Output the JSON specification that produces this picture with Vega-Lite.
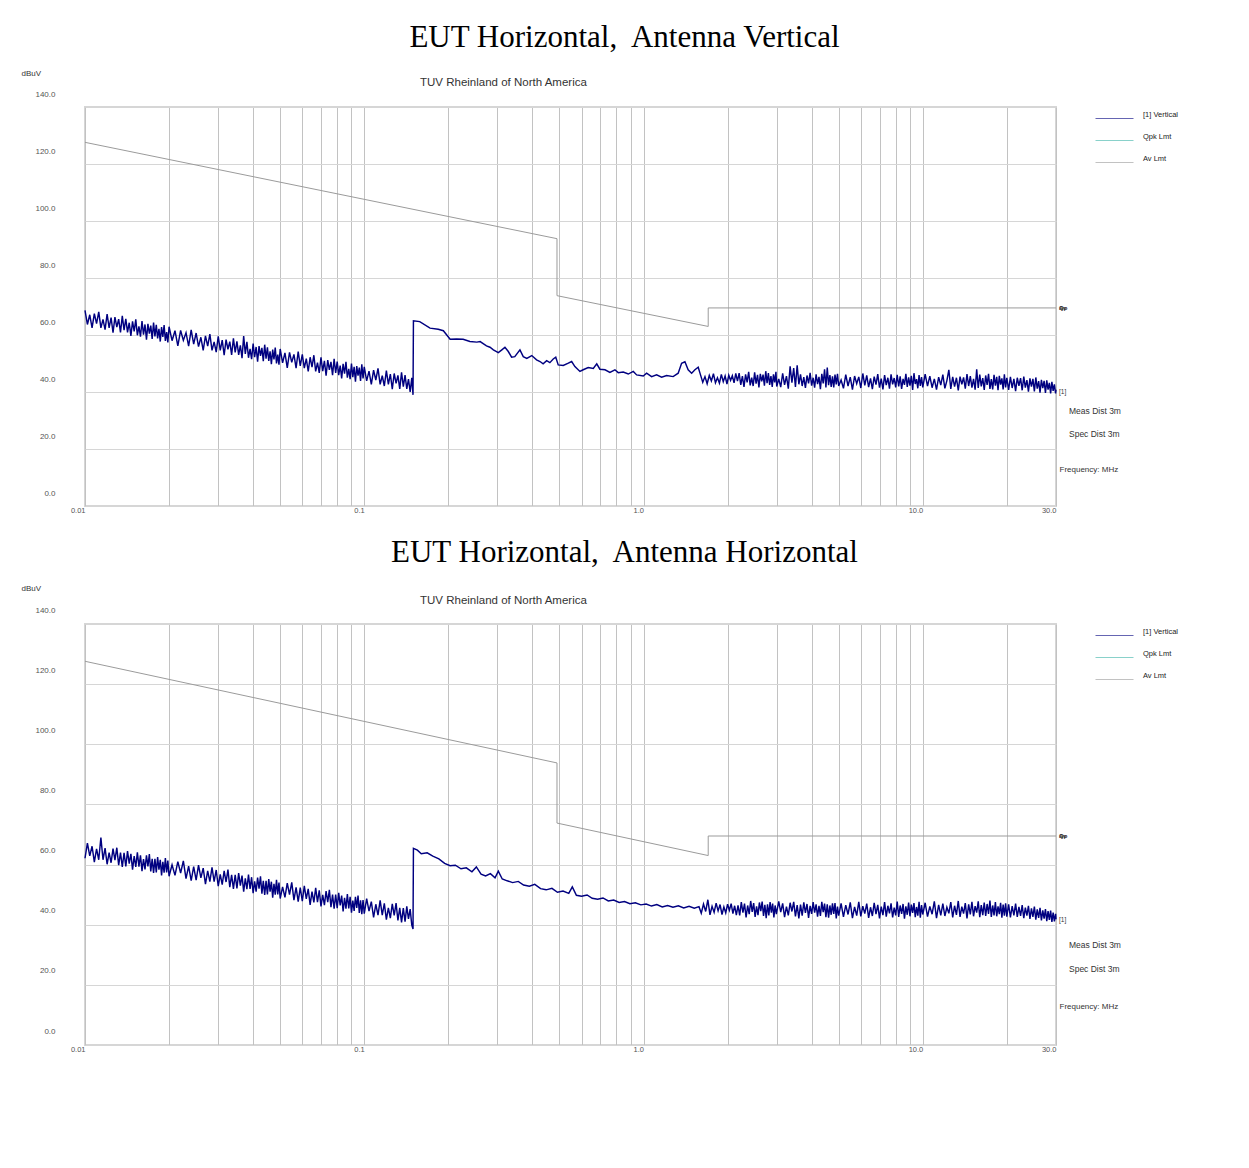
{
  "$schema": "https://vega.github.io/schema/vega-lite/v6.json",
  "autosize": {"type": "none"},
  "padding": {"left": 85, "top": 107, "right": 1164, "bottom": 1061},
  "background": "white",
  "spacing": 118,
  "bounds": "flush",
  "resolve": {"scale": {"color": "independent"}, "legend": {"color": "independent"}},
  "config": {
    "font": "Liberation Sans",
    "view": {"stroke": "#d6d6d6", "strokeWidth": 2},
    "axis": {"domain": false, "ticks": false, "labelFont": "Liberation Sans", "labelColor": "#555555", "labelFontSize": 7.5, "titleFont": "Liberation Sans", "titleFontWeight": "normal", "titleFontSize": 8, "titleColor": "#333333", "labelOverlap": false, "labelFlush": false},
    "axisX": {"gridColor": "#c2c2c2", "gridOpacity": 1},
    "axisY": {"gridColor": "#d6d6d6", "gridOpacity": 1},
    "legend": {"orient": "none", "legendX": 1010, "legendY": -8, "padding": 0, "symbolType": "stroke", "symbolSize": 1444, "symbolStrokeWidth": 1, "symbolOpacity": 0.6, "labelFont": "Liberation Sans", "labelFontSize": 7.5, "labelColor": "#222222", "labelOffset": 9, "labelBaseline": "bottom", "rowPadding": 0},
    "text": {"font": "Liberation Sans", "color": "#333333"},
    "title": {"font": "Liberation Serif", "fontSize": 31, "fontWeight": "normal", "color": "#000000", "anchor": "middle", "frame": "group", "dx": 54, "offset": 15}
  },
  "datasets": {
    "lim": [
      {"i": 1, "f": 0.01, "v": 127.6},
      {"i": 2, "f": 0.49, "v": 93.8},
      {"i": 3, "f": 0.49, "v": 73.8},
      {"i": 4, "f": 1.705, "v": 63.0},
      {"i": 5, "f": 1.705, "v": 69.5},
      {"i": 6, "f": 30, "v": 69.5}
    ],
    "vert": [
      {"f":0.0100,"v":68.6},{"f":0.0102,"v":63.7},{"f":0.0104,"v":67.1},{"f":0.0106,"v":62.5},{"f":0.0108,"v":67.5},{"f":0.0110,"v":64.0},{"f":0.0112,"v":68.1},{"f":0.0114,"v":62.5},{"f":0.0116,"v":65.5},{"f":0.0118,"v":61.9},
      {"f":0.0120,"v":67.3},{"f":0.0122,"v":62.5},{"f":0.0124,"v":66.1},{"f":0.0126,"v":60.8},{"f":0.0128,"v":66.3},{"f":0.0130,"v":62.8},{"f":0.0132,"v":65.6},{"f":0.0134,"v":60.9},{"f":0.0136,"v":66.7},{"f":0.0138,"v":61.7},
      {"f":0.0140,"v":65.7},{"f":0.0142,"v":60.9},{"f":0.0144,"v":64.3},{"f":0.0146,"v":59.7},{"f":0.0148,"v":64.8},{"f":0.0150,"v":61.3},{"f":0.0152,"v":65.5},{"f":0.0154,"v":59.9},{"f":0.0156,"v":63.0},{"f":0.0158,"v":59.4},
      {"f":0.0160,"v":64.9},{"f":0.0162,"v":60.1},{"f":0.0164,"v":63.7},{"f":0.0166,"v":58.4},{"f":0.0168,"v":63.9},{"f":0.0170,"v":60.5},{"f":0.0172,"v":63.3},{"f":0.0174,"v":58.6},{"f":0.0176,"v":64.4},{"f":0.0178,"v":59.5},
      {"f":0.0180,"v":63.6},{"f":0.0182,"v":58.8},{"f":0.0184,"v":62.2},{"f":0.0186,"v":57.7},{"f":0.0188,"v":62.8},{"f":0.0190,"v":59.3},{"f":0.0192,"v":63.5},{"f":0.0194,"v":57.9},{"f":0.0196,"v":61.0},{"f":0.0198,"v":57.4},
      {"f":0.0200,"v":62.9},
      {"f":0.0205,"v":58.0},{"f":0.0210,"v":61.5},{"f":0.0215,"v":56.2},{"f":0.0220,"v":61.6},{"f":0.0225,"v":58.1},{"f":0.0230,"v":60.8},{"f":0.0235,"v":56.1},{"f":0.0240,"v":61.8},{"f":0.0245,"v":56.8},{"f":0.0250,"v":60.7},
      {"f":0.0255,"v":55.9},{"f":0.0260,"v":59.2},{"f":0.0265,"v":54.6},{"f":0.0270,"v":59.7},{"f":0.0275,"v":56.1},{"f":0.0280,"v":60.3},{"f":0.0285,"v":54.6},{"f":0.0290,"v":57.6},{"f":0.0295,"v":54.0},{"f":0.0300,"v":59.5},
      {"f":0.0305,"v":54.6},{"f":0.0310,"v":58.2},{"f":0.0315,"v":52.9},{"f":0.0320,"v":58.4},{"f":0.0325,"v":55.0},{"f":0.0330,"v":57.7},{"f":0.0335,"v":53.0},{"f":0.0340,"v":58.8},{"f":0.0345,"v":53.9},{"f":0.0350,"v":57.8},
      {"f":0.0355,"v":53.0},{"f":0.0360,"v":56.4},{"f":0.0365,"v":51.9},{"f":0.0370,"v":59.6},{"f":0.0375,"v":53.4},{"f":0.0380,"v":57.6},{"f":0.0385,"v":52.0},{"f":0.0390,"v":55.1},{"f":0.0395,"v":51.5},{"f":0.0400,"v":57.0},
      {"f":0.0405,"v":52.2},{"f":0.0410,"v":55.8},{"f":0.0415,"v":50.6},{"f":0.0420,"v":56.1},{"f":0.0425,"v":52.7},{"f":0.0430,"v":55.5},{"f":0.0435,"v":50.8},{"f":0.0440,"v":56.6},{"f":0.0445,"v":51.7},{"f":0.0450,"v":55.7},
      {"f":0.0455,"v":50.9},{"f":0.0460,"v":54.3},{"f":0.0465,"v":49.8},{"f":0.0470,"v":54.9},{"f":0.0475,"v":51.4},{"f":0.0480,"v":55.6},{"f":0.0485,"v":50.0},{"f":0.0490,"v":53.1},{"f":0.0495,"v":49.6},{"f":0.0500,"v":55.1},
      {"f":0.051,"v":50.2},{"f":0.052,"v":53.7},{"f":0.053,"v":48.5},{"f":0.054,"v":53.9},{"f":0.055,"v":50.4},{"f":0.056,"v":53.2},{"f":0.057,"v":48.4},{"f":0.058,"v":54.2},{"f":0.059,"v":49.2},{"f":0.060,"v":53.2},
      {"f":0.061,"v":48.4},{"f":0.062,"v":51.7},{"f":0.063,"v":47.2},{"f":0.064,"v":52.2},{"f":0.065,"v":48.7},{"f":0.066,"v":52.9},{"f":0.067,"v":47.2},{"f":0.068,"v":50.3},{"f":0.069,"v":46.7},{"f":0.070,"v":52.2},
      {"f":0.071,"v":47.3},{"f":0.072,"v":50.9},{"f":0.073,"v":45.7},{"f":0.074,"v":51.2},{"f":0.075,"v":47.8},{"f":0.076,"v":50.6},{"f":0.077,"v":45.9},{"f":0.078,"v":51.6},{"f":0.079,"v":46.7},{"f":0.080,"v":50.7},
      {"f":0.081,"v":45.9},{"f":0.082,"v":49.3},{"f":0.083,"v":44.8},{"f":0.084,"v":49.9},{"f":0.085,"v":46.4},{"f":0.086,"v":50.6},{"f":0.087,"v":45.0},{"f":0.088,"v":48.1},{"f":0.089,"v":44.5},{"f":0.090,"v":50.0},
      {"f":0.091,"v":45.2},{"f":0.092,"v":48.8},{"f":0.093,"v":43.6},{"f":0.094,"v":49.1},{"f":0.095,"v":45.7},{"f":0.096,"v":48.6},{"f":0.097,"v":43.9},{"f":0.098,"v":49.7},{"f":0.099,"v":44.8},{"f":0.100,"v":48.8},
      {"f":0.102,"v":43.9},{"f":0.104,"v":47.3},{"f":0.106,"v":42.7},{"f":0.108,"v":47.7},{"f":0.110,"v":44.2},{"f":0.112,"v":48.3},{"f":0.114,"v":42.7},{"f":0.116,"v":45.7},{"f":0.118,"v":42.1},{"f":0.120,"v":47.5},
      {"f":0.122,"v":42.7},{"f":0.124,"v":46.3},{"f":0.126,"v":41.0},{"f":0.128,"v":46.5},{"f":0.130,"v":43.0},{"f":0.132,"v":45.8},{"f":0.134,"v":41.1},{"f":0.136,"v":46.9},{"f":0.138,"v":41.9},{"f":0.140,"v":45.9},
      {"f":0.142,"v":41.1},{"f":0.144,"v":44.5},{"f":0.146,"v":40.0},{"f":0.148,"v":45.0},{"f":0.1495,"v":39.0},
      {"f":0.150,"v":65.0},{"f":0.158,"v":64.7},{"f":0.172,"v":62.4},{"f":0.184,"v":62.0},{"f":0.192,"v":61.5},{"f":0.203,"v":58.5},{"f":0.214,"v":58.6},{"f":0.226,"v":58.5},{"f":0.239,"v":57.7},{"f":0.253,"v":57.5},
      {"f":0.260,"v":57.7},{"f":0.274,"v":56.2},{"f":0.282,"v":55.7},{"f":0.290,"v":54.8},{"f":0.302,"v":53.8},{"f":0.311,"v":54.8},{"f":0.319,"v":55.7},{"f":0.328,"v":54.2},{"f":0.337,"v":52.2},{"f":0.346,"v":52.4},
      {"f":0.361,"v":54.8},{"f":0.371,"v":52.4},{"f":0.382,"v":51.8},{"f":0.398,"v":52.8},{"f":0.414,"v":51.3},{"f":0.426,"v":50.7},{"f":0.437,"v":49.9},{"f":0.450,"v":51.0},{"f":0.462,"v":50.3},{"f":0.475,"v":51.6},
      {"f":0.485,"v":52.2},{"f":0.495,"v":49.5},{"f":0.516,"v":49.3},{"f":0.538,"v":50.1},{"f":0.553,"v":50.7},{"f":0.568,"v":48.9},{"f":0.592,"v":47.2},{"f":0.608,"v":47.8},{"f":0.634,"v":48.6},{"f":0.661,"v":48.3},
      {"f":0.680,"v":49.9},{"f":0.698,"v":48.0},{"f":0.728,"v":47.8},{"f":0.758,"v":46.9},{"f":0.790,"v":47.8},{"f":0.812,"v":46.8},{"f":0.846,"v":47.0},{"f":0.882,"v":46.3},{"f":0.919,"v":47.2},{"f":0.945,"v":46.0},
      {"f":0.998,"v":45.6},{"f":1.026,"v":46.6},{"f":1.069,"v":45.4},{"f":1.114,"v":46.0},{"f":1.161,"v":45.2},{"f":1.210,"v":45.8},{"f":1.277,"v":45.4},{"f":1.331,"v":46.6},{"f":1.369,"v":50.1},{"f":1.407,"v":50.6},
      {"f":1.445,"v":47.8},{"f":1.487,"v":46.6},{"f":1.528,"v":47.8},{"f":1.570,"v":48.7},
      {"f":1.60,"v":46.0},{"f":1.63,"v":43.4},{"f":1.66,"v":45.4},{"f":1.69,"v":42.9},{"f":1.72,"v":45.8},{"f":1.75,"v":43.9},{"f":1.78,"v":46.4},{"f":1.81,"v":43.2},{"f":1.84,"v":45.0},{"f":1.87,"v":43.1},
      {"f":1.90,"v":46.2},{"f":1.93,"v":43.6},{"f":1.96,"v":45.6},{"f":1.99,"v":42.8},{"f":2.02,"v":45.9},{"f":2.05,"v":44.1},{"f":2.08,"v":45.7},{"f":2.11,"v":43.2},{"f":2.14,"v":46.5},{"f":2.17,"v":43.8},
      {"f":2.20,"v":46.6},{"f":2.23,"v":42.5},{"f":2.26,"v":45.6},{"f":2.29,"v":41.8},{"f":2.32,"v":46.2},{"f":2.35,"v":43.4},{"f":2.38,"v":47.1},{"f":2.41,"v":42.3},{"f":2.44,"v":45.0},{"f":2.47,"v":42.1},
      {"f":2.50,"v":46.9},{"f":2.53,"v":42.9},{"f":2.56,"v":46.0},{"f":2.59,"v":41.6},{"f":2.62,"v":46.4},{"f":2.65,"v":43.7},{"f":2.68,"v":46.1},{"f":2.71,"v":42.2},{"f":2.74,"v":47.3},{"f":2.77,"v":43.1},
      {"f":2.80,"v":46.6},{"f":2.83,"v":42.5},{"f":2.86,"v":45.6},{"f":2.89,"v":41.8},{"f":2.92,"v":46.2},{"f":2.95,"v":43.4},{"f":2.98,"v":47.1},
      {"f":3.00,"v":41.9},{"f":3.05,"v":44.6},{"f":3.10,"v":41.7},{"f":3.15,"v":46.5},{"f":3.20,"v":42.5},{"f":3.25,"v":45.6},{"f":3.30,"v":41.2},{"f":3.35,"v":49.0},{"f":3.40,"v":43.3},{"f":3.45,"v":48.4},
      {"f":3.50,"v":41.8},{"f":3.55,"v":49.4},{"f":3.60,"v":42.7},{"f":3.65,"v":46.2},{"f":3.70,"v":42.1},{"f":3.75,"v":45.2},{"f":3.80,"v":41.4},{"f":3.85,"v":45.8},{"f":3.90,"v":43.0},{"f":3.95,"v":46.7},
      {"f":4.00,"v":42.2},{"f":4.05,"v":45.0},{"f":4.10,"v":41.5},{"f":4.15,"v":46.2},{"f":4.20,"v":42.8},{"f":4.25,"v":45.3},{"f":4.30,"v":41.0},{"f":4.35,"v":46.4},{"f":4.40,"v":43.0},{"f":4.45,"v":48.0},
      {"f":4.50,"v":41.6},{"f":4.55,"v":48.6},{"f":4.60,"v":42.4},{"f":4.65,"v":45.9},{"f":4.70,"v":41.8},{"f":4.75,"v":45.5},{"f":4.80,"v":41.6},{"f":4.85,"v":46.1},{"f":4.90,"v":42.7},{"f":4.95,"v":46.4},
      {"f":5.00,"v":42.1},
      {"f":5.1,"v":44.2},{"f":5.2,"v":41.3},{"f":5.3,"v":46.1},{"f":5.4,"v":42.1},{"f":5.5,"v":45.2},{"f":5.6,"v":40.8},{"f":5.7,"v":45.6},{"f":5.8,"v":42.9},{"f":5.9,"v":45.3},{"f":6.0,"v":41.4},
      {"f":6.1,"v":46.5},{"f":6.2,"v":42.3},{"f":6.3,"v":45.8},{"f":6.4,"v":41.7},{"f":6.5,"v":44.8},{"f":6.6,"v":41.0},{"f":6.7,"v":45.4},{"f":6.8,"v":42.6},{"f":6.9,"v":46.3},{"f":7.0,"v":41.5},
      {"f":7.1,"v":44.7},{"f":7.2,"v":40.9},{"f":7.3,"v":45.9},{"f":7.4,"v":42.4},{"f":7.5,"v":45.0},{"f":7.6,"v":41.2},{"f":7.7,"v":46.2},{"f":7.8,"v":42.7},{"f":7.9,"v":44.9},{"f":8.0,"v":41.6},
      {"f":8.1,"v":46.0},{"f":8.2,"v":42.0},{"f":8.3,"v":45.5},{"f":8.4,"v":41.1},{"f":8.5,"v":44.6},{"f":8.6,"v":42.5},{"f":8.7,"v":46.4},{"f":8.8,"v":41.8},{"f":8.9,"v":45.1},{"f":9.0,"v":42.2},
      {"f":9.1,"v":45.7},{"f":9.2,"v":40.7},{"f":9.3,"v":46.6},{"f":9.4,"v":42.8},{"f":9.5,"v":44.5},{"f":9.6,"v":41.3},{"f":9.7,"v":45.9},{"f":9.8,"v":42.1},{"f":9.9,"v":45.2},{"f":10.0,"v":41.6},
      {"f":10.2,"v":46.3},{"f":10.4,"v":42.1},{"f":10.6,"v":45.6},{"f":10.8,"v":41.5},{"f":11.0,"v":44.6},{"f":11.2,"v":40.8},{"f":11.4,"v":45.2},{"f":11.6,"v":42.4},{"f":11.8,"v":46.1},{"f":12.0,"v":41.3},
      {"f":12.2,"v":44.0},{"f":12.4,"v":47.8},{"f":12.6,"v":41.1},{"f":12.8,"v":45.3},{"f":13.0,"v":41.9},{"f":13.2,"v":45.0},{"f":13.4,"v":40.6},{"f":13.6,"v":45.4},{"f":13.8,"v":42.7},{"f":14.0,"v":45.1},
      {"f":14.2,"v":41.2},{"f":14.4,"v":46.3},{"f":14.6,"v":42.1},{"f":14.8,"v":45.6},{"f":15.0,"v":41.5},{"f":15.2,"v":44.6},{"f":15.4,"v":40.8},{"f":15.6,"v":48.0},{"f":15.8,"v":41.4},{"f":16.0,"v":46.1},
      {"f":16.2,"v":42.0},{"f":16.4,"v":44.9},{"f":16.6,"v":40.7},{"f":16.8,"v":45.8},{"f":17.0,"v":42.5},{"f":17.2,"v":46.4},{"f":17.4,"v":41.1},{"f":17.6,"v":44.5},{"f":17.8,"v":40.9},{"f":18.0,"v":46.0},
      {"f":18.2,"v":42.2},{"f":18.4,"v":45.3},{"f":18.6,"v":40.6},{"f":18.8,"v":45.7},{"f":19.0,"v":42.6},{"f":19.2,"v":44.8},{"f":19.4,"v":40.9},{"f":19.6,"v":46.2},{"f":19.8,"v":41.6},{"f":20.0,"v":45.0},
      {"f":20.3,"v":40.7},{"f":20.6,"v":45.3},{"f":20.9,"v":41.4},{"f":21.2,"v":44.6},{"f":21.5,"v":40.3},{"f":21.8,"v":45.0},{"f":22.1,"v":42.2},{"f":22.4,"v":44.9},{"f":22.7,"v":40.6},{"f":23.0,"v":45.4},
      {"f":23.3,"v":41.5},{"f":23.6,"v":44.2},{"f":23.9,"v":40.1},{"f":24.2,"v":44.8},{"f":24.5,"v":41.9},{"f":24.8,"v":44.6},{"f":25.1,"v":40.2},{"f":25.4,"v":45.1},{"f":25.7,"v":41.2},{"f":26.0,"v":43.8},
      {"f":26.3,"v":39.8},{"f":26.6,"v":44.3},{"f":26.9,"v":41.4},{"f":27.2,"v":43.9},{"f":27.5,"v":39.7},{"f":27.8,"v":44.1},{"f":28.1,"v":40.8},{"f":28.4,"v":43.2},{"f":28.7,"v":39.5},{"f":29.0,"v":43.6},
      {"f":29.3,"v":40.4},{"f":29.6,"v":42.7},{"f":29.9,"v":39.5},{"f":30.0,"v":40.8}
    ],
    "horiz": [
      {"f":0.0100,"v":62.1},{"f":0.0102,"v":67.1},{"f":0.0104,"v":62.9},{"f":0.0106,"v":66.1},{"f":0.0108,"v":60.8},{"f":0.0110,"v":65.2},{"f":0.0112,"v":61.6},{"f":0.0114,"v":69.0},{"f":0.0116,"v":61.6},{"f":0.0118,"v":65.5},
      {"f":0.0120,"v":60.1},{"f":0.0122,"v":64.0},{"f":0.0124,"v":60.6},{"f":0.0126,"v":65.3},{"f":0.0128,"v":61.5},{"f":0.0130,"v":65.6},{"f":0.0132,"v":59.8},{"f":0.0134,"v":64.0},{"f":0.0136,"v":59.2},{"f":0.0138,"v":63.9},
      {"f":0.0140,"v":59.4},{"f":0.0142,"v":64.5},{"f":0.0144,"v":60.3},{"f":0.0146,"v":63.6},{"f":0.0148,"v":58.3},{"f":0.0150,"v":62.8},{"f":0.0152,"v":59.2},{"f":0.0154,"v":64.1},{"f":0.0156,"v":59.3},{"f":0.0158,"v":63.1},
      {"f":0.0160,"v":57.8},{"f":0.0162,"v":61.8},{"f":0.0164,"v":58.4},{"f":0.0166,"v":63.1},{"f":0.0168,"v":59.4},{"f":0.0170,"v":63.5},{"f":0.0172,"v":57.7},{"f":0.0174,"v":61.9},{"f":0.0176,"v":57.2},{"f":0.0178,"v":61.9},
      {"f":0.0180,"v":57.4},{"f":0.0182,"v":62.5},{"f":0.0184,"v":58.3},{"f":0.0186,"v":61.6},{"f":0.0188,"v":56.4},{"f":0.0190,"v":60.9},{"f":0.0192,"v":57.3},{"f":0.0194,"v":62.2},{"f":0.0196,"v":57.4},{"f":0.0198,"v":61.3},
      {"f":0.0200,"v":56.1},
      {"f":0.0205,"v":59.9},{"f":0.0210,"v":56.4},{"f":0.0215,"v":61.0},{"f":0.0220,"v":57.2},{"f":0.0225,"v":61.2},{"f":0.0230,"v":55.3},{"f":0.0235,"v":59.5},{"f":0.0240,"v":54.7},{"f":0.0245,"v":59.3},{"f":0.0250,"v":54.8},
      {"f":0.0255,"v":59.8},{"f":0.0260,"v":55.6},{"f":0.0265,"v":58.8},{"f":0.0270,"v":53.5},{"f":0.0275,"v":57.9},{"f":0.0280,"v":54.3},{"f":0.0285,"v":59.1},{"f":0.0290,"v":54.3},{"f":0.0295,"v":58.2},{"f":0.0300,"v":52.8},
      {"f":0.0305,"v":56.7},{"f":0.0310,"v":53.3},{"f":0.0315,"v":57.9},{"f":0.0320,"v":54.2},{"f":0.0325,"v":58.3},{"f":0.0330,"v":52.5},{"f":0.0335,"v":56.6},{"f":0.0340,"v":51.9},{"f":0.0345,"v":56.6},{"f":0.0350,"v":52.1},
      {"f":0.0355,"v":57.2},{"f":0.0360,"v":53.0},{"f":0.0365,"v":56.3},{"f":0.0370,"v":51.0},{"f":0.0375,"v":55.4},{"f":0.0380,"v":51.8},{"f":0.0385,"v":56.7},{"f":0.0390,"v":51.9},{"f":0.0395,"v":55.8},{"f":0.0400,"v":50.5},
      {"f":0.0405,"v":54.4},{"f":0.0410,"v":51.0},{"f":0.0415,"v":55.7},{"f":0.0420,"v":52.0},{"f":0.0425,"v":56.1},{"f":0.0430,"v":50.3},{"f":0.0435,"v":54.6},{"f":0.0440,"v":49.9},{"f":0.0445,"v":54.6},{"f":0.0450,"v":50.1},
      {"f":0.0455,"v":55.2},{"f":0.0460,"v":51.0},{"f":0.0465,"v":54.3},{"f":0.0470,"v":49.0},{"f":0.0475,"v":53.6},{"f":0.0480,"v":50.0},{"f":0.0485,"v":54.9},{"f":0.0490,"v":50.1},{"f":0.0495,"v":54.0},{"f":0.0500,"v":48.7},
      {"f":0.051,"v":52.6},{"f":0.052,"v":49.1},{"f":0.053,"v":53.8},{"f":0.054,"v":50.0},{"f":0.055,"v":54.1},{"f":0.056,"v":48.2},{"f":0.057,"v":52.4},{"f":0.058,"v":47.7},{"f":0.059,"v":52.3},{"f":0.060,"v":47.8},
      {"f":0.061,"v":52.9},{"f":0.062,"v":48.6},{"f":0.063,"v":51.9},{"f":0.064,"v":46.6},{"f":0.065,"v":51.0},{"f":0.066,"v":47.4},{"f":0.067,"v":52.3},{"f":0.068,"v":47.5},{"f":0.069,"v":51.4},{"f":0.070,"v":46.1},
      {"f":0.071,"v":49.9},{"f":0.072,"v":46.5},{"f":0.073,"v":51.2},{"f":0.074,"v":47.5},{"f":0.075,"v":51.6},{"f":0.076,"v":45.8},{"f":0.077,"v":50.0},{"f":0.078,"v":45.3},{"f":0.079,"v":50.0},{"f":0.080,"v":45.5},
      {"f":0.081,"v":50.6},{"f":0.082,"v":46.4},{"f":0.083,"v":49.7},{"f":0.084,"v":44.4},{"f":0.085,"v":48.9},{"f":0.086,"v":45.3},{"f":0.087,"v":50.2},{"f":0.088,"v":45.4},{"f":0.089,"v":49.3},{"f":0.090,"v":44.0},
      {"f":0.091,"v":48.0},{"f":0.092,"v":44.6},{"f":0.093,"v":49.3},{"f":0.094,"v":45.6},{"f":0.095,"v":49.7},{"f":0.096,"v":43.9},{"f":0.097,"v":48.1},{"f":0.098,"v":43.5},{"f":0.099,"v":48.2},{"f":0.100,"v":43.7},
      {"f":0.102,"v":48.7},{"f":0.104,"v":44.5},{"f":0.106,"v":47.7},{"f":0.108,"v":42.4},{"f":0.110,"v":46.8},{"f":0.112,"v":43.2},{"f":0.114,"v":48.1},{"f":0.116,"v":43.2},{"f":0.118,"v":47.1},{"f":0.120,"v":41.7},
      {"f":0.122,"v":45.6},{"f":0.124,"v":42.2},{"f":0.126,"v":46.9},{"f":0.128,"v":43.1},{"f":0.130,"v":47.2},{"f":0.132,"v":41.4},{"f":0.134,"v":45.6},{"f":0.136,"v":40.8},{"f":0.138,"v":45.5},{"f":0.140,"v":41.0},
      {"f":0.142,"v":46.1},{"f":0.144,"v":41.9},{"f":0.146,"v":45.2},{"f":0.148,"v":39.9},{"f":0.1495,"v":38.6},
      {"f":0.150,"v":65.4},{"f":0.155,"v":64.8},{"f":0.160,"v":63.6},{"f":0.168,"v":63.9},{"f":0.176,"v":62.8},{"f":0.185,"v":61.9},{"f":0.194,"v":60.4},{"f":0.203,"v":59.6},{"f":0.212,"v":59.8},{"f":0.222,"v":58.6},
      {"f":0.232,"v":58.9},{"f":0.243,"v":57.6},{"f":0.252,"v":59.2},{"f":0.262,"v":56.8},{"f":0.272,"v":56.2},{"f":0.283,"v":57.0},{"f":0.294,"v":55.6},{"f":0.302,"v":57.8},{"f":0.312,"v":55.2},{"f":0.325,"v":54.6},
      {"f":0.340,"v":54.0},{"f":0.356,"v":54.4},{"f":0.372,"v":53.2},{"f":0.390,"v":52.8},{"f":0.408,"v":53.4},{"f":0.428,"v":52.0},{"f":0.448,"v":51.6},{"f":0.470,"v":52.1},{"f":0.492,"v":50.8},{"f":0.515,"v":51.2},
      {"f":0.540,"v":50.4},{"f":0.556,"v":52.6},{"f":0.575,"v":49.8},{"f":0.600,"v":49.5},{"f":0.628,"v":49.9},{"f":0.655,"v":48.8},{"f":0.685,"v":48.5},{"f":0.716,"v":48.9},{"f":0.748,"v":47.9},{"f":0.782,"v":48.2},
      {"f":0.818,"v":47.4},{"f":0.855,"v":47.7},{"f":0.894,"v":47.0},{"f":0.935,"v":47.3},{"f":0.978,"v":46.6},{"f":1.022,"v":46.9},{"f":1.068,"v":46.2},{"f":1.116,"v":46.7},{"f":1.167,"v":45.9},{"f":1.22,"v":46.4},
      {"f":1.275,"v":45.8},{"f":1.333,"v":46.3},{"f":1.393,"v":45.6},{"f":1.456,"v":46.1},{"f":1.52,"v":45.5},{"f":1.58,"v":46.0},
      {"f":1.61,"v":43.8},{"f":1.64,"v":46.9},{"f":1.67,"v":44.4},{"f":1.70,"v":48.3},{"f":1.73,"v":43.3},{"f":1.76,"v":46.1},{"f":1.79,"v":44.1},{"f":1.82,"v":47.2},{"f":1.85,"v":44.6},{"f":1.88,"v":46.7},
      {"f":1.91,"v":43.4},{"f":1.94,"v":45.9},{"f":1.97,"v":43.9},{"f":2.00,"v":46.8},{"f":2.03,"v":44.8},{"f":2.06,"v":47.0},{"f":2.09,"v":43.7},{"f":2.12,"v":46.3},{"f":2.15,"v":43.2},{"f":2.18,"v":46.4},
      {"f":2.21,"v":43.1},{"f":2.24,"v":47.5},{"f":2.27,"v":44.0},{"f":2.30,"v":47.0},{"f":2.33,"v":42.4},{"f":2.36,"v":46.4},{"f":2.39,"v":43.5},{"f":2.42,"v":47.9},{"f":2.45,"v":44.3},{"f":2.48,"v":47.2},
      {"f":2.51,"v":42.6},{"f":2.54,"v":46.1},{"f":2.57,"v":43.2},{"f":2.60,"v":47.4},{"f":2.63,"v":44.5},{"f":2.66,"v":47.7},{"f":2.69,"v":42.9},{"f":2.72,"v":46.6},{"f":2.75,"v":42.2},{"f":2.78,"v":46.8},
      {"f":2.81,"v":43.1},{"f":2.84,"v":47.5},{"f":2.87,"v":44.0},{"f":2.90,"v":47.0},{"f":2.93,"v":42.4},{"f":2.96,"v":46.4},{"f":2.99,"v":43.5},
      {"f":3.05,"v":47.8},{"f":3.10,"v":44.2},{"f":3.15,"v":47.1},{"f":3.20,"v":42.5},{"f":3.25,"v":46.0},{"f":3.30,"v":43.1},{"f":3.35,"v":47.3},{"f":3.40,"v":44.4},{"f":3.45,"v":47.6},{"f":3.50,"v":42.8},
      {"f":3.55,"v":46.5},{"f":3.60,"v":42.1},{"f":3.65,"v":46.7},{"f":3.70,"v":43.0},{"f":3.75,"v":47.4},{"f":3.80,"v":43.9},{"f":3.85,"v":46.9},{"f":3.90,"v":42.3},{"f":3.95,"v":46.3},{"f":4.00,"v":43.6},
      {"f":4.05,"v":47.5},{"f":4.10,"v":44.0},{"f":4.15,"v":46.8},{"f":4.20,"v":42.7},{"f":4.25,"v":46.3},{"f":4.30,"v":42.9},{"f":4.35,"v":47.6},{"f":4.40,"v":44.2},{"f":4.45,"v":47.0},{"f":4.50,"v":42.5},
      {"f":4.55,"v":46.8},{"f":4.60,"v":42.3},{"f":4.65,"v":46.4},{"f":4.70,"v":43.3},{"f":4.75,"v":47.1},{"f":4.80,"v":43.6},{"f":4.85,"v":47.2},{"f":4.90,"v":42.1},{"f":4.95,"v":46.0},{"f":5.00,"v":43.0},
      {"f":5.1,"v":47.1},{"f":5.2,"v":42.6},{"f":5.3,"v":46.5},{"f":5.4,"v":43.4},{"f":5.5,"v":47.4},{"f":5.6,"v":42.2},{"f":5.7,"v":45.9},{"f":5.8,"v":43.0},{"f":5.9,"v":47.6},{"f":6.0,"v":42.8},
      {"f":6.1,"v":46.2},{"f":6.2,"v":43.7},{"f":6.3,"v":47.0},{"f":6.4,"v":42.3},{"f":6.5,"v":45.8},{"f":6.6,"v":42.9},{"f":6.7,"v":47.3},{"f":6.8,"v":43.5},{"f":6.9,"v":46.6},{"f":7.0,"v":42.1},
      {"f":7.1,"v":46.0},{"f":7.2,"v":43.2},{"f":7.3,"v":47.5},{"f":7.4,"v":42.7},{"f":7.5,"v":46.3},{"f":7.6,"v":43.8},{"f":7.7,"v":47.1},{"f":7.8,"v":42.4},{"f":7.9,"v":45.7},{"f":8.0,"v":43.1},
      {"f":8.1,"v":47.7},{"f":8.2,"v":42.6},{"f":8.3,"v":46.4},{"f":8.4,"v":43.6},{"f":8.5,"v":46.9},{"f":8.6,"v":42.0},{"f":8.7,"v":46.1},{"f":8.8,"v":43.3},{"f":8.9,"v":47.4},{"f":9.0,"v":42.8},
      {"f":9.1,"v":46.7},{"f":9.2,"v":43.9},{"f":9.3,"v":47.2},{"f":9.4,"v":42.5},{"f":9.5,"v":45.9},{"f":9.6,"v":43.0},{"f":9.7,"v":47.6},{"f":9.8,"v":42.3},{"f":9.9,"v":46.5},{"f":10.0,"v":43.4},
      {"f":10.2,"v":47.3},{"f":10.4,"v":42.7},{"f":10.6,"v":46.1},{"f":10.8,"v":43.5},{"f":11.0,"v":47.8},{"f":11.2,"v":42.2},{"f":11.4,"v":46.6},{"f":11.6,"v":43.1},{"f":11.8,"v":47.0},{"f":12.0,"v":42.9},
      {"f":12.2,"v":45.8},{"f":12.4,"v":43.8},{"f":12.6,"v":47.5},{"f":12.8,"v":42.4},{"f":13.0,"v":46.3},{"f":13.2,"v":43.3},{"f":13.4,"v":47.9},{"f":13.6,"v":42.6},{"f":13.8,"v":46.0},{"f":14.0,"v":43.7},
      {"f":14.2,"v":47.2},{"f":14.4,"v":42.1},{"f":14.6,"v":46.8},{"f":14.8,"v":43.4},{"f":15.0,"v":47.6},{"f":15.2,"v":42.8},{"f":15.4,"v":46.2},{"f":15.6,"v":44.0},{"f":15.8,"v":47.8},{"f":16.0,"v":42.5},
      {"f":16.2,"v":46.5},{"f":16.4,"v":43.2},{"f":16.6,"v":47.4},{"f":16.8,"v":42.9},{"f":17.0,"v":46.9},{"f":17.2,"v":43.6},{"f":17.4,"v":48.0},{"f":17.6,"v":42.6},{"f":17.8,"v":46.4},{"f":18.0,"v":43.1},
      {"f":18.2,"v":47.5},{"f":18.4,"v":42.8},{"f":18.6,"v":46.1},{"f":18.8,"v":43.5},{"f":19.0,"v":47.3},{"f":19.2,"v":42.3},{"f":19.4,"v":46.7},{"f":19.6,"v":43.0},{"f":19.8,"v":47.1},{"f":20.0,"v":42.7},
      {"f":20.3,"v":46.8},{"f":20.6,"v":42.4},{"f":20.9,"v":46.2},{"f":21.2,"v":43.1},{"f":21.5,"v":47.0},{"f":21.8,"v":42.6},{"f":22.1,"v":45.9},{"f":22.4,"v":42.9},{"f":22.7,"v":46.5},{"f":23.0,"v":42.2},
      {"f":23.3,"v":45.7},{"f":23.6,"v":43.0},{"f":23.9,"v":46.3},{"f":24.2,"v":41.9},{"f":24.5,"v":45.4},{"f":24.8,"v":42.6},{"f":25.1,"v":46.0},{"f":25.4,"v":41.7},{"f":25.7,"v":45.1},{"f":26.0,"v":42.3},
      {"f":26.3,"v":45.6},{"f":26.6,"v":41.4},{"f":26.9,"v":44.8},{"f":27.2,"v":42.0},{"f":27.5,"v":45.2},{"f":27.8,"v":41.2},{"f":28.1,"v":44.5},{"f":28.4,"v":41.6},{"f":28.7,"v":44.7},{"f":29.0,"v":40.9},
      {"f":29.3,"v":44.0},{"f":29.6,"v":41.1},{"f":29.9,"v":43.6},{"f":30.0,"v":41.8}
    ]
  },
  "vconcat": [
    {
      "width": 971,
      "height": 399,
      "title": {"text": "EUT Horizontal,\u00a0 Antenna Vertical"},
      "layer": [
        {
          "data": {"name": "lim"},
          "mark": {"type": "line", "strokeWidth": 1},
          "encoding": {
            "x": {"field": "f", "type": "quantitative", "scale": {"type": "log", "domain": [0.01, 30], "nice": false},
              "axis": {"values": [0.01,0.02,0.03,0.04,0.05,0.06,0.07,0.08,0.09,0.1,0.2,0.3,0.4,0.5,0.6,0.7,0.8,0.9,1,2,3,4,5,6,7,8,9,10,20,30],
                "labelExpr": "datum.value === 0.01 ? '0.01' : datum.value === 0.1 ? '0.1' : datum.value === 1 ? '1.0' : datum.value === 10 ? '10.0' : datum.value === 30 ? '30.0' : ''",
                "labelAlign": "right", "labelBaseline": "middle", "labelPadding": 4, "grid": true,
                "title": "Frequency: MHz", "titleX": 974, "titleY": -37, "titleAlign": "left", "titleBaseline": "middle", "titleAngle": 0}},
            "y": {"field": "v", "type": "quantitative", "scale": {"domain": [0, 140], "nice": false},
              "axis": {"values": [0,20,40,60,80,100,120,140], "format": ".1f", "labelAlign": "right", "labelBaseline": "middle", "labelPadding": 30, "labelOffset": -13, "labelFontSize": 8, "grid": true,
                "title": "dBuV", "titleAngle": 0, "titleAlign": "left", "titleBaseline": "middle", "titleX": -64, "titleY": -34}},
            "color": {"datum": "Av Lmt", "type": "nominal", "scale": {"domain": ["[1] Vertical", "Qpk Lmt", "Av Lmt"], "range": ["#000080", "#3cb4a8", "#9b9b9b"]}, "legend": {"title": null}},
            "order": {"field": "i", "type": "quantitative"}
          }
        },
        {
          "data": {"name": "vert"},
          "mark": {"type": "line", "strokeWidth": 1.45},
          "encoding": {
            "x": {"field": "f", "type": "quantitative"},
            "y": {"field": "v", "type": "quantitative"},
            "color": {"datum": "[1] Vertical", "type": "nominal"}
          }
        },
        {
          "data": {"values": [{}]},
          "mark": {"type": "text", "text": "TUV Rheinland of North America", "align": "center", "baseline": "middle", "fontSize": 11.5},
          "encoding": {"x": {"datum": 0.315, "type": "quantitative"}, "y": {"datum": 148.5, "type": "quantitative"}}
        },
        {
          "data": {"values": [{}]},
          "mark": {"type": "text", "text": "Meas Dist 3m", "align": "left", "baseline": "middle", "dx": 13, "fontSize": 8.5},
          "encoding": {"x": {"datum": 30, "type": "quantitative"}, "y": {"datum": 33.3, "type": "quantitative"}}
        },
        {
          "data": {"values": [{}]},
          "mark": {"type": "text", "text": "Spec Dist 3m", "align": "left", "baseline": "middle", "dx": 13, "fontSize": 8.5},
          "encoding": {"x": {"datum": 30, "type": "quantitative"}, "y": {"datum": 25.3, "type": "quantitative"}}
        },
        {
          "data": {"values": [{}]},
          "mark": {"type": "text", "text": "[1]", "align": "left", "baseline": "middle", "dx": 3, "fontSize": 6.5},
          "encoding": {"x": {"datum": 30, "type": "quantitative"}, "y": {"datum": 40, "type": "quantitative"}}
        },
        {
          "data": {"values": [{}]},
          "mark": {"type": "text", "text": "Qp", "align": "left", "baseline": "middle", "dx": 3, "fontSize": 6, "fontWeight": "bold"},
          "encoding": {"x": {"datum": 30, "type": "quantitative"}, "y": {"datum": 69.5, "type": "quantitative"}}
        },
        {
          "data": {"values": [{}]},
          "mark": {"type": "text", "text": "Av", "align": "left", "baseline": "middle", "dx": 3, "fontSize": 6, "fontWeight": "bold"},
          "encoding": {"x": {"datum": 30, "type": "quantitative"}, "y": {"datum": 69.5, "type": "quantitative"}}
        }
      ]
    },
    {
      "width": 971,
      "height": 421,
      "title": {"text": "EUT Horizontal,\u00a0 Antenna Horizontal"},
      "layer": [
        {
          "data": {"name": "lim"},
          "mark": {"type": "line", "strokeWidth": 1},
          "encoding": {
            "x": {"field": "f", "type": "quantitative", "scale": {"type": "log", "domain": [0.01, 30], "nice": false},
              "axis": {"values": [0.01,0.02,0.03,0.04,0.05,0.06,0.07,0.08,0.09,0.1,0.2,0.3,0.4,0.5,0.6,0.7,0.8,0.9,1,2,3,4,5,6,7,8,9,10,20,30],
                "labelExpr": "datum.value === 0.01 ? '0.01' : datum.value === 0.1 ? '0.1' : datum.value === 1 ? '1.0' : datum.value === 10 ? '10.0' : datum.value === 30 ? '30.0' : ''",
                "labelAlign": "right", "labelBaseline": "middle", "labelPadding": 4, "grid": true,
                "title": "Frequency: MHz", "titleX": 974, "titleY": -39, "titleAlign": "left", "titleBaseline": "middle", "titleAngle": 0}},
            "y": {"field": "v", "type": "quantitative", "scale": {"domain": [0, 140], "nice": false},
              "axis": {"values": [0,20,40,60,80,100,120,140], "format": ".1f", "labelAlign": "right", "labelBaseline": "middle", "labelPadding": 30, "labelOffset": -14, "labelFontSize": 8, "grid": true,
                "title": "dBuV", "titleAngle": 0, "titleAlign": "left", "titleBaseline": "middle", "titleX": -64, "titleY": -36}},
            "color": {"datum": "Av Lmt", "type": "nominal", "scale": {"domain": ["[1] Vertical", "Qpk Lmt", "Av Lmt"], "range": ["#000080", "#3cb4a8", "#9b9b9b"]}, "legend": {"title": null}},
            "order": {"field": "i", "type": "quantitative"}
          }
        },
        {
          "data": {"name": "horiz"},
          "mark": {"type": "line", "strokeWidth": 1.45},
          "encoding": {
            "x": {"field": "f", "type": "quantitative"},
            "y": {"field": "v", "type": "quantitative"},
            "color": {"datum": "[1] Vertical", "type": "nominal"}
          }
        },
        {
          "data": {"values": [{}]},
          "mark": {"type": "text", "text": "TUV Rheinland of North America", "align": "center", "baseline": "middle", "fontSize": 11.5},
          "encoding": {"x": {"datum": 0.315, "type": "quantitative"}, "y": {"datum": 147.7, "type": "quantitative"}}
        },
        {
          "data": {"values": [{}]},
          "mark": {"type": "text", "text": "Meas Dist 3m", "align": "left", "baseline": "middle", "dx": 13, "fontSize": 8.5},
          "encoding": {"x": {"datum": 30, "type": "quantitative"}, "y": {"datum": 33.3, "type": "quantitative"}}
        },
        {
          "data": {"values": [{}]},
          "mark": {"type": "text", "text": "Spec Dist 3m", "align": "left", "baseline": "middle", "dx": 13, "fontSize": 8.5},
          "encoding": {"x": {"datum": 30, "type": "quantitative"}, "y": {"datum": 25.3, "type": "quantitative"}}
        },
        {
          "data": {"values": [{}]},
          "mark": {"type": "text", "text": "[1]", "align": "left", "baseline": "middle", "dx": 3, "fontSize": 6.5},
          "encoding": {"x": {"datum": 30, "type": "quantitative"}, "y": {"datum": 41.5, "type": "quantitative"}}
        },
        {
          "data": {"values": [{}]},
          "mark": {"type": "text", "text": "Qp", "align": "left", "baseline": "middle", "dx": 3, "fontSize": 6, "fontWeight": "bold"},
          "encoding": {"x": {"datum": 30, "type": "quantitative"}, "y": {"datum": 69.5, "type": "quantitative"}}
        },
        {
          "data": {"values": [{}]},
          "mark": {"type": "text", "text": "Av", "align": "left", "baseline": "middle", "dx": 3, "fontSize": 6, "fontWeight": "bold"},
          "encoding": {"x": {"datum": 30, "type": "quantitative"}, "y": {"datum": 69.5, "type": "quantitative"}}
        }
      ]
    }
  ]
}
